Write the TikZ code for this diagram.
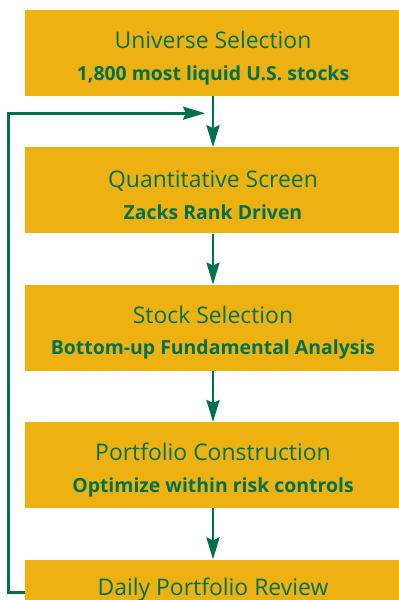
\documentclass[tikz,border=0pt]{standalone}
\usepackage{fontspec}
\setmainfont{Open Sans}
\usetikzlibrary{chains,positioning,arrows.meta}
\definecolor{zgold}{HTML}{EDB212}
\definecolor{zgreen}{HTML}{00704F}

\begin{document}
\begin{tikzpicture}[
x=1bp,y=-1bp,
stagebox/.style={
  fill=zgold,
  text=zgreen,
  minimum width=376bp,
  minimum height=86bp,
  inner sep=0pt,
  align=center,
  font=\fontsize{23}{32}\selectfont,
  on chain
  },
flow/.style={
  draw=zgreen,
  line width=2.8bp,
  -{Stealth[length=22bp,width=13bp,inset=3bp]}
  },
start chain=going below,
node distance=51bp
]
\useasboundingbox (0,0) rectangle (398,600);
\node[stagebox] at (213,53) (u) {\rule{0pt}{27bp}Universe Selection\\{\fontsize{19.5}{32}\bfseries 1,800 most liquid U.S. stocks}};
\node[stagebox] (q) {\rule{0pt}{27bp}Quantitative Screen\\{\fontsize{19.5}{32}\bfseries Zacks Rank Driven}};
\node[stagebox] (s) {\rule{0pt}{27bp}Stock Selection\\{\fontsize{19.5}{32}\bfseries Bottom-up Fundamental Analysis}};
\node[stagebox] (p) {\rule{0pt}{27bp}Portfolio Construction\\{\fontsize{19.5}{32}\bfseries Optimize within risk controls}};
\node[stagebox] (d) {Daily Portfolio Review\\\mbox{}};
\coordinate (merge) at ([xshift=-8bp,yshift=-17bp]u.south);
\draw[flow] (u) -- (q);
\draw[flow] (q) -- (s);
\draw[flow] (s) -- (p);
\draw[flow] (p) -- (d);
\draw[flow] ([yshift=10bp]d.west) -- ++(-16,0) |- (merge);
\end{tikzpicture}
\end{document}
